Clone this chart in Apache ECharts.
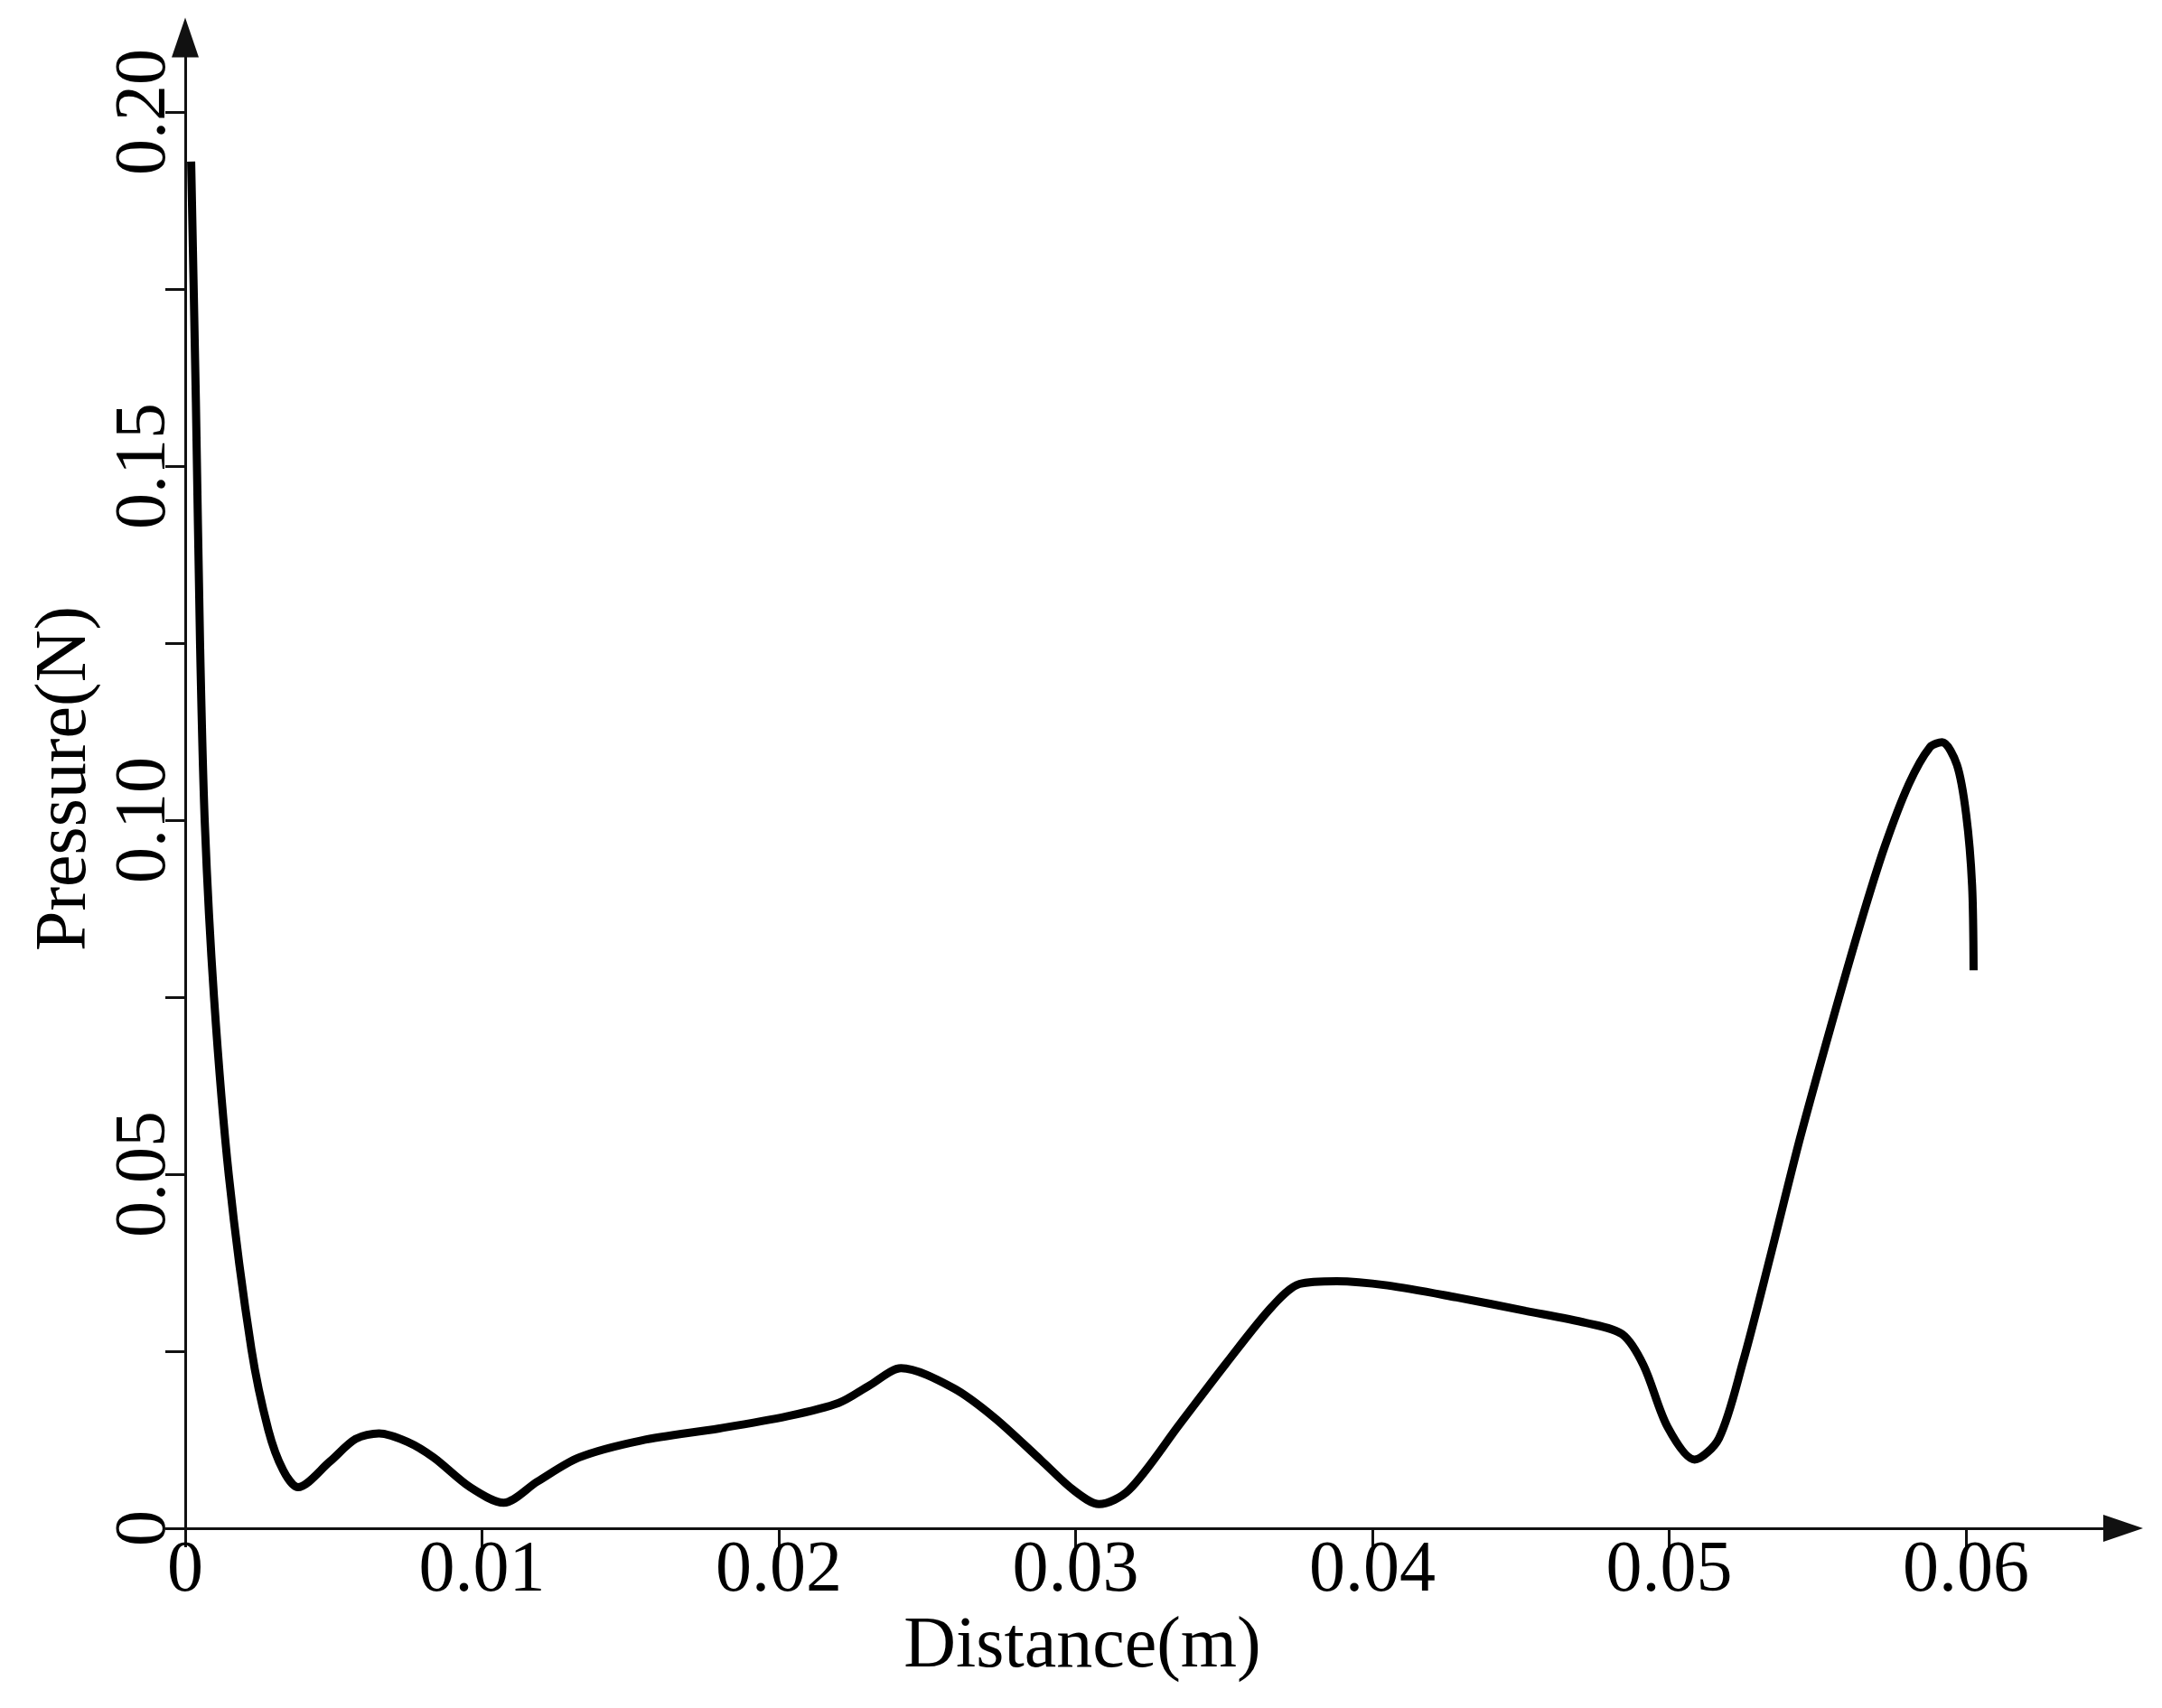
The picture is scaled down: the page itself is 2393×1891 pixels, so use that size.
<!DOCTYPE html>
<html>
<head>
<meta charset="utf-8">
<script src="https://cdn.jsdelivr.net/npm/echarts@6/dist/echarts.min.js"></script>
<style>
html,body{margin:0;padding:0;background:#fff;}
#c{width:2393px;height:1891px;}
</style>
</head>
<body>
<div id="c"></div>
<script>
// Distance (m)
var distance = [0.0002, 0.00036, 0.0005, 0.00066, 0.00097, 0.00147, 0.00223, 0.0028, 0.0033, 0.0038,
  0.00487, 0.00574, 0.00653, 0.00749, 0.00837, 0.0096, 0.01073, 0.01187, 0.01327, 0.01537,
  0.018, 0.02027, 0.02202, 0.02307, 0.02412, 0.02588, 0.02727, 0.02884, 0.02993, 0.03079,
  0.0318, 0.03351, 0.03506, 0.03662, 0.03755, 0.0388, 0.04051, 0.04284, 0.04517, 0.0472,
  0.04842, 0.04914, 0.04995, 0.05086, 0.05168, 0.05249, 0.0534, 0.05442, 0.05544, 0.05645,
  0.05726, 0.05808, 0.05879, 0.0592, 0.0597, 0.06001, 0.06021, 0.06026];
// Pressure (N)
var pressure = [0.193, 0.159, 0.125, 0.0996, 0.075, 0.0498, 0.0253, 0.0139, 0.0082, 0.0058,
  0.0094, 0.0126, 0.0134, 0.0122, 0.0100, 0.0058, 0.0036, 0.0066, 0.0100, 0.0124,
  0.0141, 0.0158, 0.0177, 0.0202, 0.0226, 0.0198, 0.0156, 0.0096, 0.0054, 0.0034,
  0.0054, 0.0147, 0.0232, 0.0313, 0.0345, 0.0349, 0.0343, 0.0326, 0.0307, 0.0290,
  0.0274, 0.0230, 0.0143, 0.0097, 0.0127, 0.0235, 0.0382, 0.0552, 0.0707, 0.0854,
  0.0962, 0.1051, 0.1103, 0.1110, 0.1078, 0.1008, 0.0908, 0.0788];

var xTickValues = [0, 0.01, 0.02, 0.03, 0.04, 0.05, 0.06];
var xTickLabels = ['0', '0.01', '0.02', '0.03', '0.04', '0.05', '0.06'];
var yTickValues = [0, 0.025, 0.05, 0.075, 0.1, 0.125, 0.15, 0.175, 0.2];
var yLabelValues = [0, 0.05, 0.1, 0.15, 0.2];
var yTickLabels = ['0', '0.05', '0.10', '0.15', '0.20'];
var xTitle = 'Distance(m)';
var yTitle = 'Pressure(N)';

var seriesData = distance.map(function (d, i) { return [d, pressure[i]]; });

var FONT = '"Liberation Serif", "Times New Roman", serif';
var chart = echarts.init(document.getElementById('c'));
chart.setOption({
  backgroundColor: '#fff',
  animation: false,
  grid: { left: 205, top: 41.5, width: 2145, bottom: 199, containLabel: false },
  xAxis: {
    type: 'value', min: 0, max: 0.0653,
    axisLine: { show: true, symbol: ['none', 'triangle'], symbolSize: [30, 44], lineStyle: { color: '#111', width: 3 } },
    axisTick: { show: true, inside: false, length: 21, customValues: xTickValues, lineStyle: { color: '#111', width: 3 } },
    axisLabel: {
      customValues: xTickValues, margin: 8, color: '#000', fontFamily: FONT, fontSize: 80,
      formatter: function (v) { return xTickLabels[Math.round(v / 0.01)]; }
    },
    splitLine: { show: false }
  },
  yAxis: {
    type: 'value', min: 0, max: 0.21052,
    axisLine: { show: true, symbol: ['none', 'triangle'], symbolSize: [30, 44], lineStyle: { color: '#111', width: 3 } },
    axisTick: { show: true, inside: false, length: 22, customValues: yTickValues, lineStyle: { color: '#111', width: 3 } },
    axisLabel: {
      customValues: yLabelValues, rotate: 90, margin: 4, color: '#000', fontFamily: FONT, fontSize: 80,
      formatter: function (v) { return yTickLabels[Math.round(v / 0.05)]; }
    },
    splitLine: { show: false }
  },
  graphic: [
    { type: 'text', x: 1198, y: 1824, style: { text: xTitle, font: '80px ' + FONT, fill: '#000', textAlign: 'center', textVerticalAlign: 'middle' } },
    { type: 'text', x: 73, y: 862, rotation: Math.PI / 2, style: { text: yTitle, font: '80px ' + FONT, fill: '#000', textAlign: 'center', textVerticalAlign: 'middle' } }
  ],
  series: [{
    type: 'line', data: seriesData, showSymbol: false, smooth: 0.3,
    lineStyle: { color: '#000', width: 9 }
  }]
});
</script>
</body>
</html>
